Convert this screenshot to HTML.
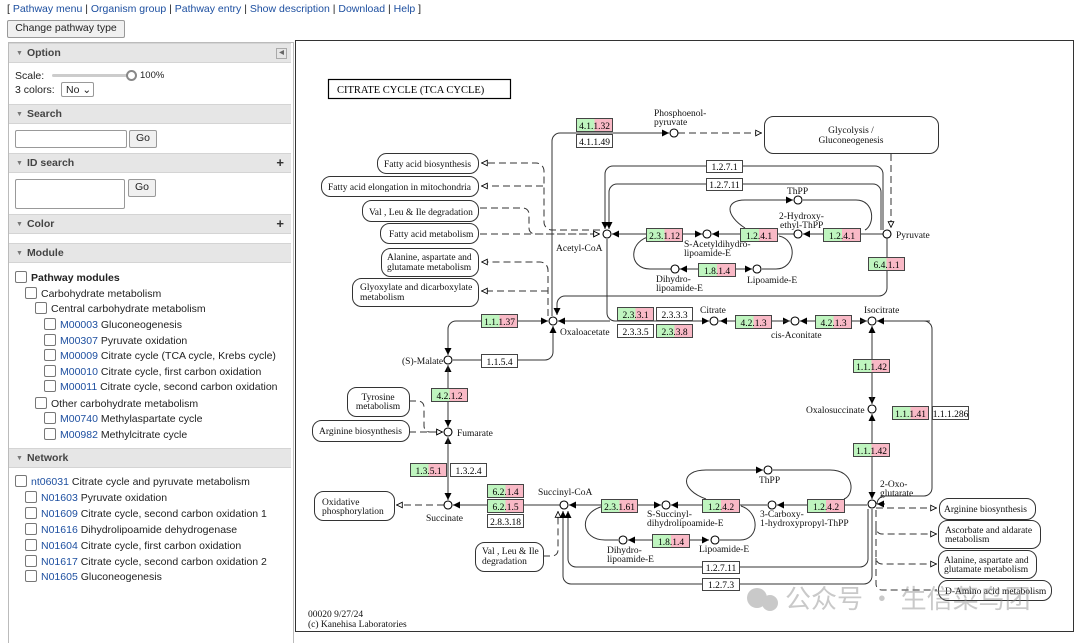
<!DOCTYPE html>
<html><head><meta charset="utf-8"><style>
body{margin:0;width:1080px;height:640px;overflow:hidden;background:#fff;font-family:"Liberation Sans",sans-serif;font-size:10.5px;color:#222;position:relative}
.a{position:absolute;white-space:nowrap}
a,.l{color:#1d4fa0;text-decoration:none}
.hd{position:absolute;left:9px;width:282px;height:18px;background:#e6e6e6;border-top:1px solid #d4d4d4;border-bottom:1px solid #d4d4d4;font-weight:bold;color:#444;font-size:10.5px;line-height:18px}
.hd span{margin-left:7px;font-size:7px;color:#777;margin-right:4px;vertical-align:1px}
.pl{position:absolute;right:7px;top:0;font-size:13px;color:#333}
.cb{display:inline-block;width:10px;height:10px;border:1px solid #777;border-radius:2px;vertical-align:-2px;margin-right:4px;background:#fff}
.btn{position:absolute;border:1px solid #999;background:#f0f0f0;border-radius:2px;font-size:10.5px;text-align:center;line-height:15px}
.in{position:absolute;border:1px solid #999;background:#fff}
</style></head><body>
<div class="a" style="left:7px;top:3px;font-size:10.5px">[ <a>Pathway menu</a> | <a>Organism group</a> | <a>Pathway entry</a> | <a>Show description</a> | <a>Download</a> | <a>Help</a> ]</div>
<div class="btn" style="left:7px;top:20px;width:116px;height:16px">Change pathway type</div>
<div style="position:absolute;left:8px;top:42px;width:284px;height:600px;border:1px solid #bbb;border-bottom:none"></div>
<div class="hd" style="top:43px"><span>▼</span>Option<div style="position:absolute;right:4px;top:4px;width:9px;height:9px;border:1px solid #aaa;font-size:6px;line-height:9px;text-align:center;color:#666">◀</div></div>
<div class="a" style="left:15px;top:70px">Scale:</div>
<div style="position:absolute;left:52px;top:74px;width:78px;height:3px;background:#ccc;border-radius:2px"></div>
<div style="position:absolute;left:126px;top:70px;width:7px;height:7px;border:2px solid #888;border-radius:50%;background:#fff"></div>
<div class="a" style="left:140px;top:70px;font-size:9.5px">100%</div>
<div class="a" style="left:15px;top:84px">3 colors:</div>
<div class="in" style="left:61px;top:82px;width:33px;height:15px;border-radius:2px;line-height:15px;padding-left:4px;box-sizing:border-box">No ⌄</div>
<div class="hd" style="top:104px"><span>▼</span>Search</div>
<div class="in" style="left:15px;top:130px;width:110px;height:16px;border-radius:2px"></div>
<div class="btn" style="left:129px;top:130px;width:26px;height:16px">Go</div>
<div class="hd" style="top:153px"><span>▼</span>ID search<div class="pl">+</div></div>
<div class="in" style="left:15px;top:179px;width:108px;height:28px;border-radius:2px"></div>
<div class="btn" style="left:128px;top:179px;width:26px;height:16px">Go</div>
<div class="hd" style="top:214px"><span>▼</span>Color<div class="pl">+</div></div>
<div class="hd" style="top:243px"><span>▼</span>Module</div>
<div class="a" style="left:15px;top:271px;font-weight:bold"><i class="cb"></i>Pathway modules</div>
<div class="a" style="left:25px;top:287px"><i class="cb"></i>Carbohydrate metabolism</div>
<div class="a" style="left:35px;top:302px"><i class="cb"></i>Central carbohydrate metabolism</div>
<div class="a" style="left:44px;top:318px"><i class="cb"></i><a>M00003</a> Gluconeogenesis</div>
<div class="a" style="left:44px;top:334px"><i class="cb"></i><a>M00307</a> Pyruvate oxidation</div>
<div class="a" style="left:44px;top:349px"><i class="cb"></i><a>M00009</a> Citrate cycle (TCA cycle, Krebs cycle)</div>
<div class="a" style="left:44px;top:365px"><i class="cb"></i><a>M00010</a> Citrate cycle, first carbon oxidation</div>
<div class="a" style="left:44px;top:380px"><i class="cb"></i><a>M00011</a> Citrate cycle, second carbon oxidation</div>
<div class="a" style="left:35px;top:397px"><i class="cb"></i>Other carbohydrate metabolism</div>
<div class="a" style="left:44px;top:412px"><i class="cb"></i><a>M00740</a> Methylaspartate cycle</div>
<div class="a" style="left:44px;top:428px"><i class="cb"></i><a>M00982</a> Methylcitrate cycle</div>
<div class="hd" style="top:448px"><span>▼</span>Network</div>
<div class="a" style="left:15px;top:475px"><i class="cb"></i><a>nt06031</a> Citrate cycle and pyruvate metabolism</div>
<div class="a" style="left:25px;top:491px"><i class="cb"></i><a>N01603</a> Pyruvate oxidation</div>
<div class="a" style="left:25px;top:507px"><i class="cb"></i><a>N01609</a> Citrate cycle, second carbon oxidation 1</div>
<div class="a" style="left:25px;top:523px"><i class="cb"></i><a>N01616</a> Dihydrolipoamide dehydrogenase</div>
<div class="a" style="left:25px;top:539px"><i class="cb"></i><a>N01604</a> Citrate cycle, first carbon oxidation</div>
<div class="a" style="left:25px;top:555px"><i class="cb"></i><a>N01617</a> Citrate cycle, second carbon oxidation 2</div>
<div class="a" style="left:25px;top:570px"><i class="cb"></i><a>N01605</a> Gluconeogenesis</div>

<svg style="position:absolute;left:0;top:0" width="1080" height="640" font-family="Liberation Serif,serif" font-size="9.5">
<defs>
<linearGradient id="g"><stop offset="0.5" stop-color="#bff5bf"/><stop offset="0.5" stop-color="#f9b9c6"/></linearGradient>
<marker id="f" viewBox="0 0 10 10" refX="10" refY="5" markerWidth="7" markerHeight="7" orient="auto-start-reverse"><path d="M0,0L10,5L0,10z" fill="#000"/></marker>
<marker id="o" viewBox="0 0 10 10" refX="10" refY="5" markerWidth="7" markerHeight="7" orient="auto"><path d="M1,1L9,5L1,9z" fill="#fff" stroke="#000" stroke-width="1.2"/></marker>
</defs>
<rect x="295.5" y="40.5" width="778" height="591" fill="none" stroke="#333"/>
<rect x="328.5" y="79.5" width="182" height="19" fill="#fff" stroke="#000" stroke-width="1.2"/>
<text x="337" y="93" font-size="10.5">CITRATE CYCLE (TCA CYCLE)</text>

<g fill="none" stroke="#333" stroke-width="1">
<!-- PEP -->
<path d="M552,316V141a8,8 0 0 1 8,-8H669" marker-end="url(#f)"/>
<!-- 1.2.7.1 / 1.2.7.11 -->
<path d="M883,230V174a8,8 0 0 0 -8,-8H613a8,8 0 0 0 -8,8V229" marker-end="url(#f)"/>
<path d="M881,230V192a8,8 0 0 0 -8,-8H617a8,8 0 0 0 -8,8V229" marker-end="url(#f)"/>
<!-- pyruvate to acetyl line -->
<path d="M883,234H803" marker-end="url(#f)"/>
<path d="M794,234H712" marker-end="url(#f)"/>
<path d="M703,234H612" marker-end="url(#f)"/>
<path d="M655,234H702" marker-end="url(#f)"/>
<path d="M745,228C725,215 725,200 745,200H793" marker-end="url(#f)"/>
<path d="M803,200H856C875,200 875,225 865,230"/>
<path d="M652,236C628,240 628,269 650,269H715"/>
<path d="M697,269H680" marker-end="url(#f)"/>
<path d="M735,269H752" marker-end="url(#f)"/>
<path d="M779,236C798,240 796,269 776,269H762"/>
<!-- 6.4.1.1 -->
<path d="M887,238V288a8,8 0 0 1 -8,8H565a8,8 0 0 0 -8,8V315" marker-end="url(#f)"/>
<!-- acetyl to citrate -->
<path d="M607,239V313a8,8 0 0 0 8,8H709" marker-end="url(#f)"/>
<path d="M610,321H558" marker-end="url(#f)"/>
<path d="M719,321H790" marker-end="url(#f)"/>
<path d="M800,321H867" marker-end="url(#f)"/>
<path d="M790,321H720" marker-end="url(#f)"/>
<path d="M867,321H800" marker-end="url(#f)"/>
<path d="M924,321a8,8 0 0 1 8,8V488a8,8 0 0 1 -8,8H885a8,8 0 0 0 -8,8" />
<path d="M930,321H877" marker-end="url(#f)"/>
<path d="M885,504H877" marker-end="url(#f)"/>
<path d="M872,326V404" marker-end="url(#f)"/>
<path d="M872,400V326" marker-end="url(#f)"/>
<path d="M872,414V499" marker-end="url(#f)"/>
<path d="M872,420V414" marker-end="url(#f)"/>
<!-- 2-oxo to succinyl -->
<path d="M867,505H777" marker-end="url(#f)"/>
<path d="M767,505H671" marker-end="url(#f)"/>
<path d="M661,505H569" marker-end="url(#f)"/>
<path d="M610,505H661" marker-end="url(#f)"/>
<path d="M706,499C680,490 680,470 706,470H763" marker-end="url(#f)"/>
<path d="M773,470H830C855,470 855,495 844,499"/>
<path d="M604,506C578,512 580,540 605,540H618"/>
<path d="M652,540H628" marker-end="url(#f)"/>
<path d="M689,540H709" marker-end="url(#f)"/>
<path d="M741,506C760,512 760,540 740,540H720"/>
<path d="M868,509V559a8,8 0 0 1 -8,8H576a8,8 0 0 1 -8,-8V511" marker-end="url(#f)"/>
<path d="M872,509V576a8,8 0 0 1 -8,8H571a8,8 0 0 1 -8,-8V511" marker-end="url(#f)"/>
<path d="M560,505H453" marker-end="url(#f)"/>
<path d="M448,500V437" marker-end="url(#f)"/>
<path d="M448,437V500" marker-end="url(#f)"/>
<path d="M448,427V365" marker-end="url(#f)"/>
<path d="M448,365V427" marker-end="url(#f)"/>
<path d="M520,321H456a8,8 0 0 0 -8,8V355" marker-end="url(#f)"/>
<path d="M500,321H548" marker-end="url(#f)"/>
<path d="M453,360H545a8,8 0 0 0 8,-8V326" marker-end="url(#f)"/>
</g>
<g fill="none" stroke="#333" stroke-dasharray="7,4">
<path d="M678,133H762" marker-end="url(#o)"/>
<path d="M891,154V228" marker-end="url(#o)"/>
<path d="M600,230H552a8,8 0 0 1 -8,-8V171a8,8 0 0 0 -8,-8H481" marker-end="url(#o)"/>
<path d="M543,186H481" marker-end="url(#o)"/>
<path d="M480,208H523a6,6 0 0 1 6,6V228a6,6 0 0 0 6,6H600" marker-end="url(#o)"/>
<path d="M480,234H600" marker-end="url(#o)"/>
<path d="M548,316V270a8,8 0 0 0 -8,-8H481" marker-end="url(#o)"/>
<path d="M548,291H481" marker-end="url(#o)"/>
<path d="M409,401H418a6,6 0 0 1 6,6V426a6,6 0 0 0 6,6H443" marker-end="url(#o)"/>
<path d="M409,432H443" marker-end="url(#o)"/>
<path d="M444,505H396" marker-end="url(#o)"/>
<path d="M543,556H552a6,6 0 0 0 6,-6V511" marker-end="url(#o)"/>
<path d="M876,508H937" marker-end="url(#o)"/>
<path d="M876,510V528a6,6 0 0 0 6,6H937" marker-end="url(#o)"/>
<path d="M876,528V558a6,6 0 0 0 6,6H937" marker-end="url(#o)"/>
<path d="M876,558V584a6,6 0 0 0 6,6H937"/>
</g>

<g fill="#fff" stroke="#000" stroke-width="1.1">
<circle cx="674" cy="133" r="4"/><circle cx="607" cy="234" r="4"/><circle cx="707" cy="234" r="4"/>
<circle cx="798" cy="234" r="4"/><circle cx="798" cy="200" r="4"/><circle cx="887" cy="234" r="4"/>
<circle cx="675" cy="269" r="4"/><circle cx="757" cy="269" r="4"/>
<circle cx="553" cy="321" r="4"/><circle cx="714" cy="321" r="4"/><circle cx="795" cy="321" r="4"/><circle cx="872" cy="321" r="4"/>
<circle cx="448" cy="360" r="4"/><circle cx="448" cy="432" r="4"/><circle cx="872" cy="409" r="4"/>
<circle cx="872" cy="504" r="4"/><circle cx="564" cy="505" r="4"/><circle cx="448" cy="505" r="4"/>
<circle cx="666" cy="505" r="4"/><circle cx="772" cy="505" r="4"/><circle cx="768" cy="470" r="4"/>
<circle cx="623" cy="540" r="4"/><circle cx="715" cy="540" r="4"/>
</g>

<g stroke="#444" stroke-width="1">
<rect x="576.5" y="118.5" width="36" height="13" fill="url(#g)"/>
<rect x="576.5" y="134.5" width="36" height="13" fill="#fff"/>
<rect x="706.5" y="160.5" width="36" height="12" fill="#fff"/>
<rect x="706.5" y="178.5" width="36" height="12" fill="#fff"/>
<rect x="646.5" y="228.5" width="36" height="13" fill="url(#g)"/>
<rect x="740.5" y="228.5" width="37" height="13" fill="url(#g)"/>
<rect x="823.5" y="228.5" width="37" height="13" fill="url(#g)"/>
<rect x="698.5" y="263.5" width="37" height="13" fill="url(#g)"/>
<rect x="868.5" y="257.5" width="36" height="13" fill="url(#g)"/>
<rect x="617.5" y="307.5" width="36" height="13" fill="url(#g)"/>
<rect x="656.5" y="307.5" width="36" height="13" fill="#fff"/>
<rect x="617.5" y="324.5" width="36" height="13" fill="#fff"/>
<rect x="656.5" y="324.5" width="36" height="13" fill="url(#g)"/>
<rect x="481.5" y="314.5" width="36" height="13" fill="url(#g)"/>
<rect x="735.5" y="315.5" width="36" height="13" fill="url(#g)"/>
<rect x="815.5" y="315.5" width="36" height="13" fill="url(#g)"/>
<rect x="481.5" y="354.5" width="36" height="13" fill="#fff"/>
<rect x="431.5" y="388.5" width="36" height="13" fill="url(#g)"/>
<rect x="853.5" y="359.5" width="36" height="13" fill="url(#g)"/>
<rect x="892.5" y="406.5" width="36" height="13" fill="url(#g)"/>
<rect x="932.5" y="406.5" width="36" height="13" fill="#fff"/>
<rect x="853.5" y="443.5" width="36" height="13" fill="url(#g)"/>
<rect x="410.5" y="463.5" width="36" height="13" fill="url(#g)"/>
<rect x="450.5" y="463.5" width="36" height="13" fill="#fff"/>
<rect x="487.5" y="484.5" width="36" height="13" fill="url(#g)"/>
<rect x="487.5" y="499.5" width="36" height="13" fill="url(#g)"/>
<rect x="487.5" y="514.5" width="36" height="13" fill="#fff"/>
<rect x="601.5" y="499.5" width="36" height="13" fill="url(#g)"/>
<rect x="702.5" y="499.5" width="37" height="13" fill="url(#g)"/>
<rect x="807.5" y="499.5" width="37" height="13" fill="url(#g)"/>
<rect x="652.5" y="534.5" width="37" height="13" fill="url(#g)"/>
<rect x="702.5" y="561.5" width="37" height="12" fill="#fff"/>
<rect x="702.5" y="578.5" width="37" height="12" fill="#fff"/>
</g>
<g text-anchor="middle" font-size="9.5">
<text x="594.5" y="129">4.1.1.32</text><text x="594.5" y="145">4.1.1.49</text>
<text x="724.5" y="170">1.2.7.1</text><text x="724.5" y="188">1.2.7.11</text>
<text x="664.5" y="239">2.3.1.12</text><text x="759" y="239">1.2.4.1</text><text x="842" y="239">1.2.4.1</text>
<text x="717" y="274">1.8.1.4</text><text x="886.5" y="268">6.4.1.1</text>
<text x="635.5" y="318">2.3.3.1</text><text x="674.5" y="318">2.3.3.3</text>
<text x="635.5" y="335">2.3.3.5</text><text x="674.5" y="335">2.3.3.8</text>
<text x="499.5" y="325">1.1.1.37</text><text x="753.5" y="326">4.2.1.3</text><text x="833.5" y="326">4.2.1.3</text>
<text x="499.5" y="365">1.1.5.4</text><text x="449.5" y="399">4.2.1.2</text>
<text x="871.5" y="370">1.1.1.42</text><text x="910.5" y="417">1.1.1.41</text><text x="950.5" y="417">1.1.1.286</text>
<text x="871.5" y="454">1.1.1.42</text>
<text x="428.5" y="474">1.3.5.1</text><text x="468.5" y="474">1.3.2.4</text>
<text x="505.5" y="495">6.2.1.4</text><text x="505.5" y="510">6.2.1.5</text><text x="505.5" y="525">2.8.3.18</text>
<text x="619.5" y="510">2.3.1.61</text><text x="721" y="510">1.2.4.2</text><text x="826" y="510">1.2.4.2</text>
<text x="671" y="545">1.8.1.4</text><text x="721" y="571">1.2.7.11</text><text x="721" y="588">1.2.7.3</text>
</g>

<g fill="#fff" stroke="#333" stroke-width="1">
<rect x="764.5" y="116.5" width="174" height="37" rx="9"/>
<rect x="377.5" y="153.5" width="101" height="20" rx="9"/>
<rect x="321.5" y="176.5" width="157" height="20" rx="9"/>
<rect x="362.5" y="200.5" width="116" height="21" rx="9"/>
<rect x="380.5" y="223.5" width="98" height="20" rx="9"/>
<rect x="381.5" y="248.5" width="97" height="28" rx="9"/>
<rect x="352.5" y="278.5" width="126" height="28" rx="9"/>
<rect x="347.5" y="387.5" width="62" height="29" rx="9"/>
<rect x="312.5" y="420.5" width="97" height="21" rx="9"/>
<rect x="314.5" y="491.5" width="80" height="29" rx="9"/>
<rect x="475.5" y="542.5" width="68" height="29" rx="9"/>
<rect x="939.5" y="498.5" width="96" height="21" rx="9"/>
<rect x="938.5" y="520.5" width="102" height="28" rx="9"/>
<rect x="938.5" y="550.5" width="98" height="28" rx="9"/>
<rect x="938.5" y="580.5" width="113" height="20" rx="9"/>
</g>
<g font-size="9.5" fill="#111">
<text x="851" y="133" text-anchor="middle">Glycolysis /</text><text x="851" y="143" text-anchor="middle">Gluconeogenesis</text>
<text x="384" y="167">Fatty acid biosynthesis</text>
<text x="328" y="190">Fatty acid elongation in mitochondria</text>
<text x="369" y="215">Val , Leu &amp; Ile degradation</text>
<text x="389" y="237">Fatty acid metabolism</text>
<text x="387" y="260">Alanine, aspartate and</text><text x="387" y="270">glutamate metabolism</text>
<text x="360" y="290">Glyoxylate and dicarboxylate</text><text x="360" y="300">metabolism</text>
<text x="378" y="400" text-anchor="middle">Tyrosine</text><text x="378" y="409" text-anchor="middle">metabolism</text>
<text x="319" y="434">Arginine biosynthesis</text>
<text x="322" y="505">Oxidative</text><text x="322" y="514">phosphorylation</text>
<text x="482" y="554">Val , Leu &amp; Ile</text><text x="482" y="564">degradation</text>
<text x="944" y="512">Arginine biosynthesis</text>
<text x="945" y="533">Ascorbate and aldarate</text><text x="945" y="542">metabolism</text>
<text x="944" y="563">Alanine, aspartate and</text><text x="944" y="572">glutamate metabolism</text>
<text x="945" y="594">D-Amino acid metabolism</text>
<!-- compounds -->
<text x="654" y="116">Phosphoenol-</text><text x="654" y="125">pyruvate</text>
<text x="556" y="251">Acetyl-CoA</text>
<text x="684" y="247">S-Acetyldihydro-</text><text x="684" y="256">lipoamide-E</text>
<text x="656" y="282">Dihydro-</text><text x="656" y="291">lipoamide-E</text>
<text x="747" y="283">Lipoamide-E</text>
<text x="787" y="194">ThPP</text>
<text x="779" y="219">2-Hydroxy-</text><text x="780" y="228">ethyl-ThPP</text>
<text x="896" y="238">Pyruvate</text>
<text x="560" y="335">Oxaloacetate</text>
<text x="700" y="313">Citrate</text>
<text x="771" y="338">cis-Aconitate</text>
<text x="864" y="313">Isocitrate</text>
<text x="402" y="364">(S)-Malate</text>
<text x="457" y="436">Fumarate</text>
<text x="806" y="413">Oxalosuccinate</text>
<text x="880" y="487">2-Oxo-</text><text x="880" y="496">glutarate</text>
<text x="538" y="495">Succinyl-CoA</text>
<text x="426" y="521">Succinate</text>
<text x="647" y="517">S-Succinyl-</text><text x="647" y="526">dihydrolipoamide-E</text>
<text x="607" y="553">Dihydro-</text><text x="607" y="562">lipoamide-E</text>
<text x="699" y="552">Lipoamide-E</text>
<text x="759" y="483">ThPP</text>
<text x="760" y="517">3-Carboxy-</text><text x="760" y="526">1-hydroxypropyl-ThPP</text>
<text x="308" y="617">00020 9/27/24</text><text x="308" y="627">(c) Kanehisa Laboratories</text>
</g>
<g opacity="0.45" fill="#888">
<circle cx="757" cy="598" r="10"/><circle cx="770" cy="603" r="8"/>
<text x="785" y="608" font-family="Noto Sans CJK SC,sans-serif" font-size="26">公众号 · 生信菜鸟团</text>
</g>
</svg>
</body></html>
